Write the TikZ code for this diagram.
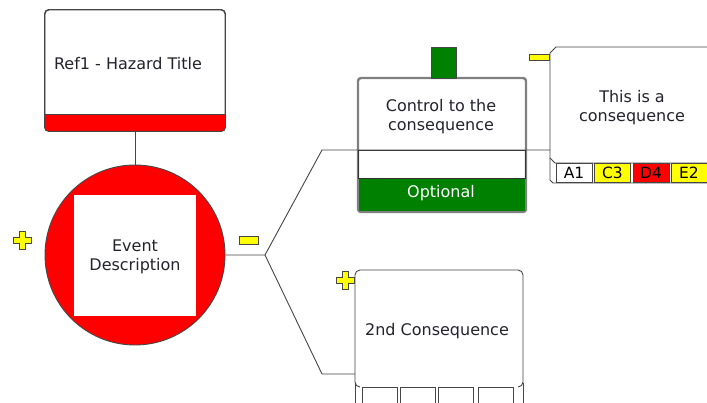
\documentclass[tikz,border=0pt]{standalone}
\usepackage{fontspec}
\setmainfont{DejaVu Sans}
\definecolor{bred}{RGB}{255,0,0}
\definecolor{bgreen}{RGB}{0,128,0}
\definecolor{byellow}{RGB}{255,255,0}
\definecolor{edge}{RGB}{70,70,70}
\definecolor{ctlgray}{RGB}{128,128,128}
\definecolor{txt}{RGB}{35,35,45}
\tikzset{
  yplus/.pic={\draw[fill=byellow, draw=edge, line width=0.8pt]
     (-3,-9) -- (3,-9) -- (3,-3) -- (9,-3) -- (9,3) -- (3,3) -- (3,9) -- (-3,9)
     -- (-3,3) -- (-9,3) -- (-9,-3) -- (-3,-3) -- cycle;},
  conn/.style={draw=edge, line width=0.9pt},
  outl/.style={draw=edge, line width=0.9pt},
  label text/.style={text=txt, font=\fontsize{16}{19}\selectfont, align=center, inner sep=0pt},
  riskcell/.style={draw=edge, line width=0.8pt, minimum width=36pt, minimum height=19pt,
     inner sep=0pt, text=black, font=\fontsize{15.5}{15.5}\selectfont},
  emptycell/.style={draw=edge, line width=0.8pt, fill=white, minimum width=35pt, minimum height=24pt, inner sep=0pt},
  minusbox/.style={draw=edge, fill=byellow, line width=0.8pt, inner sep=0pt},
}
\begin{document}
\begin{tikzpicture}[x=1pt,y=-1pt]
\useasboundingbox (0,0) rectangle (707,403);
\clip (0,0) rectangle (707,403);
\fill[white] (0,0) rectangle (707,403);

% ---------- hazard box ----------
\node[outl, fill=white, rounded corners=4pt, minimum width=180pt, minimum height=121pt, inner sep=0pt] (haz) at (135,70.5) {};
\begin{scope}
  \clip[rounded corners=4pt] (haz.north west) rectangle (haz.south east);
  \fill[bred] (45,114) rectangle (225,131);
\end{scope}
\draw[outl] (45,114) -- (225,114);
\draw[outl, rounded corners=4pt] (haz.north west) rectangle (haz.south east);
\node[label text] (haztxt) at (128,64) {Ref1 - Hazard Title};

% ---------- event ----------
\node[circle, outl, fill=bred, minimum size=180pt, inner sep=0pt] (ev) at (135,255) {};
\node[fill=white, minimum width=122pt, minimum height=121pt, inner sep=0pt] (evsq) at (135,255.5) {};
\node[label text] (evtxt) at (135,257) {Event\\Description};
\draw[conn] (haz.south) -- (ev.north);

\pic at (22,240) {yplus};
\node[minusbox, minimum width=19pt, minimum height=8pt] (evminus) at (248.5,240) {};

% ---------- connectors ----------
\coordinate (fork) at (265,255);
\coordinate (up) at (322,150);
\coordinate (dn) at (322,374);
\coordinate (c1w) at (550,150);
\coordinate (c2w) at (355,374);

% ---------- control box ----------
\node[draw=ctlgray, line width=2.4pt, rounded corners=3pt, fill=white, minimum width=168pt, minimum height=134pt, inner sep=0pt] (ctl) at (442,145) {};
\fill[bgreen] (359,178) rectangle (525,211);
\draw[draw=black!80, line width=0.9pt] (358.5,150) rectangle (525.5,178);
\node[fill=bgreen, draw=edge, line width=0.8pt, minimum width=25pt, minimum height=31pt, inner sep=0pt] (tab) at (443.5,62.5) {};
\node[label text] (ctltxt) at (441,117) {Control to the\\consequence};
\node[label text, text=white] (opt) at (441,193) {Optional};

% ---------- consequence 1 ----------
\draw[outl, fill=white] (550,53) -- (556,47) -- (712,47) -- (712,163) -- (555,163) -- (550,158) -- cycle;
\draw[outl] (550,158) -- (550,180) -- (553,183) -- (712,183);
\node[label text] (c1txt) at (632,108) {This is a\\consequence};
\node[riskcell, fill=white] (ra) at (574,172.5) {A1};
\node[riskcell, fill=byellow] (rc) at (612.5,172.5) {C3};
\node[riskcell, fill=bred] (rd) at (651,172.5) {D4};
\node[riskcell, fill=byellow] (re) at (689,172.5) {E2};
\node[minusbox, minimum width=20pt, minimum height=6pt] (c1minus) at (539,57) {};

% ---------- consequence 2 ----------
\draw[outl, fill=white, rounded corners=5pt] (360,387) -- (355,387) -- (355,270) -- (523,270) -- (523,387) -- (518,387);
\draw[outl] (355,383) -- (355,410);
\draw[outl] (523,383) -- (523,410);
\node[emptycell] (e1) at (379.5,399) {};
\node[emptycell] (e2) at (417.5,399) {};
\node[emptycell] (e3) at (456,399) {};
\node[emptycell] (e4) at (496,399) {};
\node[label text] (c2txt) at (437,331) {2nd Consequence};
\pic at (345,280) {yplus};

% ---------- lines ----------
\draw[conn] (ev.east) -- (fork) -- (up) -- (c1w);
\draw[conn] (fork) -- (dn) -- (c2w);
\end{tikzpicture}
\end{document}
